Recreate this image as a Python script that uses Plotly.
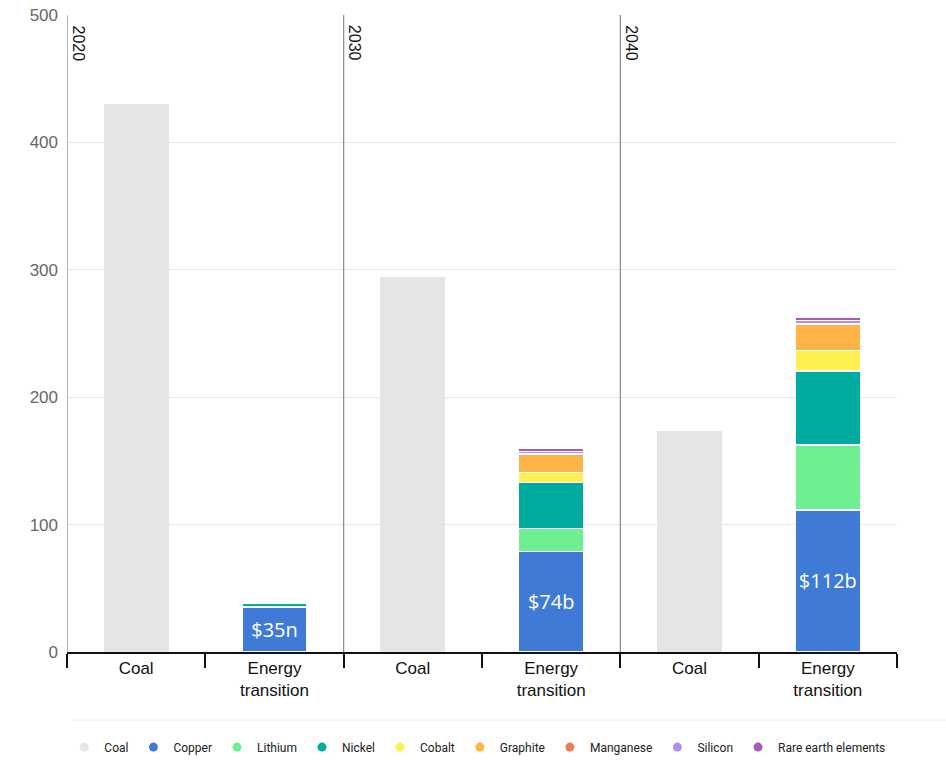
import plotly.graph_objects as go

years = ["2020", "2030", "2040"]
groups = ["Coal", "Energy<br>transition"]
coal = [430, 294, 173.5]
copper = [35, 79, 111.5]
lithium = [0.5, 18, 51]
nickel = [2.5, 36, 58]
cobalt = [0, 8, 16]
graphite = [0, 14, 21]
manganese = [0, 0.5, 0.5]
silicon = [0, 2, 2.5]
rare_earth = [0, 2.5, 2.5]
copper_labels = ["$35n", "$74b", "$112b"]

colors = {
    "Coal": "#e5e5e5",
    "Copper": "#3f7bd6",
    "Lithium": "#6ef092",
    "Nickel": "#00ab9f",
    "Cobalt": "#fff052",
    "Graphite": "#ffb447",
    "Manganese": "#ee7a52",
    "Silicon": "#b28cf0",
    "Rare earth elements": "#a45cb4",
}

coal_x = [0, 2, 4]
et_x = [1, 3, 5]

fig = go.Figure()
fig.add_trace(go.Bar(x=coal_x, y=coal, name="Coal", marker=dict(color=colors["Coal"], line=dict(width=0)),
                     width=0.47, showlegend=False, hoverinfo="y"))
series = [("Copper", copper), ("Lithium", lithium), ("Nickel", nickel), ("Cobalt", cobalt),
          ("Graphite", graphite), ("Manganese", manganese), ("Silicon", silicon),
          ("Rare earth elements", rare_earth)]
for name, vals in series:
    kw = {}
    if name == "Copper":
        kw = dict(text=copper_labels, textposition="inside", insidetextanchor="middle",
                  textfont=dict(color="white", size=20, family="Open Sans"), textangle=0)
    fig.add_trace(go.Bar(x=et_x, y=vals, name=name, width=0.47,
                         marker=dict(color=colors[name], line=dict(color="white", width=1.2)),
                         showlegend=False, **kw))

for name in colors:
    fig.add_trace(go.Scatter(x=[None], y=[None], mode="markers", name=name,
                             marker=dict(color=colors[name], size=9, symbol="circle")))

tickvals = [0, 1, 2, 3, 4, 5]
ticktext = groups * 3

fig.update_layout(
    barmode="stack",
    width=946, height=760,
    margin=dict(l=67, r=49, t=15, b=108, autoexpand=False),
    plot_bgcolor="white", paper_bgcolor="white",
    font=dict(family="Liberation Sans, Arial", size=17, color="#111"),
    xaxis=dict(range=[-0.5, 5.5], tickmode="array", tickvals=tickvals, ticktext=ticktext,
               ticks="", showgrid=False, zeroline=False, showline=True, linecolor="#111", linewidth=1.5,
               tickfont=dict(size=17, color="#111"),
               minor=dict(tickmode="linear", tick0=-0.5, dtick=1, ticks="outside", ticklen=14,
                          tickcolor="#111", tickwidth=1.5, showgrid=False)),
    yaxis=dict(range=[0, 500], tickvals=[0, 100, 200, 300, 400, 500], showgrid=True, gridcolor="#e6e6e6",
               zeroline=False, showline=False, tickfont=dict(size=17, color="#666"), ticklabelstandoff=8),
    legend=dict(orientation="h", x=0.068, xanchor="left", y=0.017, yanchor="middle",
                yref="container", xref="container", traceorder="normal",
                font=dict(family="Roboto", size=12, color="#222"), itemwidth=30),
    showlegend=True,
)

for i, yr in enumerate(years):
    xs = -0.5 + 2 * i
    fig.add_shape(type="line", x0=xs, x1=xs, y0=0, y1=500, xref="x", yref="y",
                  line=dict(color="#888", width=1.2))
    fig.add_annotation(x=xs, y=500, xref="x", yref="y", text=yr, textangle=90, showarrow=False,
                       xanchor="left", yanchor="top", xshift=1, yshift=-8,
                       font=dict(size=16, color="#111"))

fig.add_shape(type="line", xref="paper", yref="paper", x0=0.006, x1=1.06, y0=-0.107, y1=-0.107,
              line=dict(color="#eeeeee", width=1))

fig.write_html("out.html")
